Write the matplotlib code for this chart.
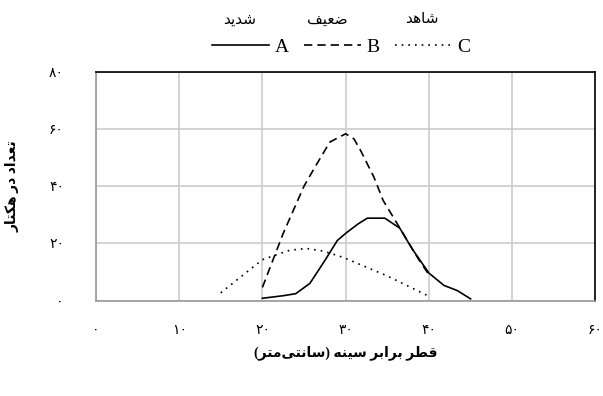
import matplotlib
matplotlib.use("Agg")
from matplotlib import pyplot as plt

# --- data ---
dbh_a = [20, 22.5, 24, 25.7, 27.5, 29, 30, 31.5, 32.6, 34.7, 36.5, 38, 40, 41.8, 43.4, 45]
val_a = [0.8, 1.7, 2.4, 6, 14, 21, 23.5, 26.8, 28.8, 28.8, 25.3, 18, 9.6, 5.3, 3.5, 0.6]

dbh_b = [20, 22.5, 25, 26.3, 28.1, 30, 31, 31.8, 33.4, 34.5, 36.2, 38.7, 40]
val_b = [4.6, 23.5, 40, 46.6, 55.4, 58.3, 56.5, 52.4, 43.1, 35, 26.8, 14.7, 9]

dbh_c = [15, 20, 21.2, 23.3, 25.3, 27.3, 29.7, 35, 40]
val_c = [2.7, 14.3, 15.5, 17.6, 18.2, 17.3, 15.1, 8.6, 1.5]

series_names = ['A', 'B', 'C']
series_fa = ['شدید', 'ضعیف', 'شاهد']
x_ticks = [0, 10, 20, 30, 40, 50, 60]
y_ticks = [0, 20, 40, 60, 80]
xlabel_fa = 'قطر برابر سینه (سانتی\u200cمتر)'
ylabel_fa = 'تعداد در هکتار'

# matplotlib has no arabic shaping, so pick presentation forms by hand
# (isolated, final, initial, medial); 2 entries = right-joining letter
FORMS = {
    'ا': (0xFE8D, 0xFE8E), 'د': (0xFEA9, 0xFEAA), 'ر': (0xFEAD, 0xFEAE),
    'ب': (0xFE8F, 0xFE90, 0xFE91, 0xFE92), 'ت': (0xFE95, 0xFE96, 0xFE97, 0xFE98),
    'س': (0xFEB1, 0xFEB2, 0xFEB3, 0xFEB4), 'ش': (0xFEB5, 0xFEB6, 0xFEB7, 0xFEB8),
    'ض': (0xFEBD, 0xFEBE, 0xFEBF, 0xFEC0), 'ط': (0xFEC1, 0xFEC2, 0xFEC3, 0xFEC4),
    'ع': (0xFEC9, 0xFECA, 0xFECB, 0xFECC), 'ف': (0xFED1, 0xFED2, 0xFED3, 0xFED4),
    'ق': (0xFED5, 0xFED6, 0xFED7, 0xFED8), 'ک': (0xFED9, 0xFEDA, 0xFEDB, 0xFEDC),
    'م': (0xFEE1, 0xFEE2, 0xFEE3, 0xFEE4), 'ن': (0xFEE5, 0xFEE6, 0xFEE7, 0xFEE8),
    'ه': (0xFEE9, 0xFEEA, 0xFEEB, 0xFEEC), 'ی': (0xFEEF, 0xFEF0, 0xFEF3, 0xFEF4),
}
MIRROR = {'(': ')', ')': '('}


def fa(text):
    out = []
    for i, ch in enumerate(text):
        if ch not in FORMS:
            if ch != '\u200c':
                out.append(MIRROR.get(ch, ch))
            continue
        prev = text[i - 1] if i > 0 else ''
        nxt = text[i + 1] if i + 1 < len(text) else ''
        jp = prev in FORMS and len(FORMS[prev]) == 4
        jn = len(FORMS[ch]) == 4 and nxt in FORMS
        f = FORMS[ch]
        if jp and jn:
            c = f[3]
        elif jp:
            c = f[1]
        elif jn:
            c = f[2]
        else:
            c = f[0]
        out.append(chr(c))
    return ''.join(out[::-1])


def fa_digits(n):
    return ''.join(chr(0x06F0 + int(d)) for d in str(n))


plt.rcParams['font.family'] = ['Liberation Serif', 'DejaVu Sans']

fig = plt.figure(figsize=(6.03, 3.96), dpi=100)
ax = fig.add_axes([0.159, 0.241, 0.8285, 0.578])

la, = ax.plot(dbh_a, val_a, color='black', lw=1.2, ls='-')
lb, = ax.plot(dbh_b, val_b, color='black', lw=1.2, ls=(0, (5, 3)))
lc, = ax.plot(dbh_c, val_c, color='black', lw=1.2, ls=(0, (1, 3)))

ax.set_xlim(0, 60)
ax.set_ylim(0, 80)
ax.set_xticks(x_ticks)
ax.set_yticks(y_ticks)
ax.set_xticklabels([fa_digits(v) for v in x_ticks], fontsize=10)
ax.set_yticklabels([fa_digits(v) for v in y_ticks], fontsize=10)
ax.tick_params(axis='x', length=0, pad=17)
ax.tick_params(axis='y', length=0, pad=23)
ax.grid(True, color='#cccccc', lw=1.2)
ax.set_axisbelow(True)
ax.spines['left'].set_color('#999999')
ax.spines['bottom'].set_color('#999999')
ax.spines['top'].set_color('black')
ax.spines['right'].set_color('black')
for s in ax.spines.values():
    s.set_linewidth(1.2)

ax.set_xlabel(fa(xlabel_fa), fontsize=10, fontweight='bold', labelpad=6)
ax.set_ylabel(fa(ylabel_fa), fontsize=10, fontweight='bold')
ax.yaxis.set_label_coords(-0.153, 0.5)

fig.legend([la, lb, lc], series_names, loc='center', bbox_to_anchor=(0.566, 0.881),
           ncol=3, frameon=False, fontsize=14, handlelength=2.9, handletextpad=0.3,
           columnspacing=0.8)
for xx, name in zip([0.398, 0.543, 0.70], series_fa):
    fig.text(xx, 0.95, fa(name), fontsize=11, ha='center', va='center')

fig.savefig('out.png', dpi=100)
